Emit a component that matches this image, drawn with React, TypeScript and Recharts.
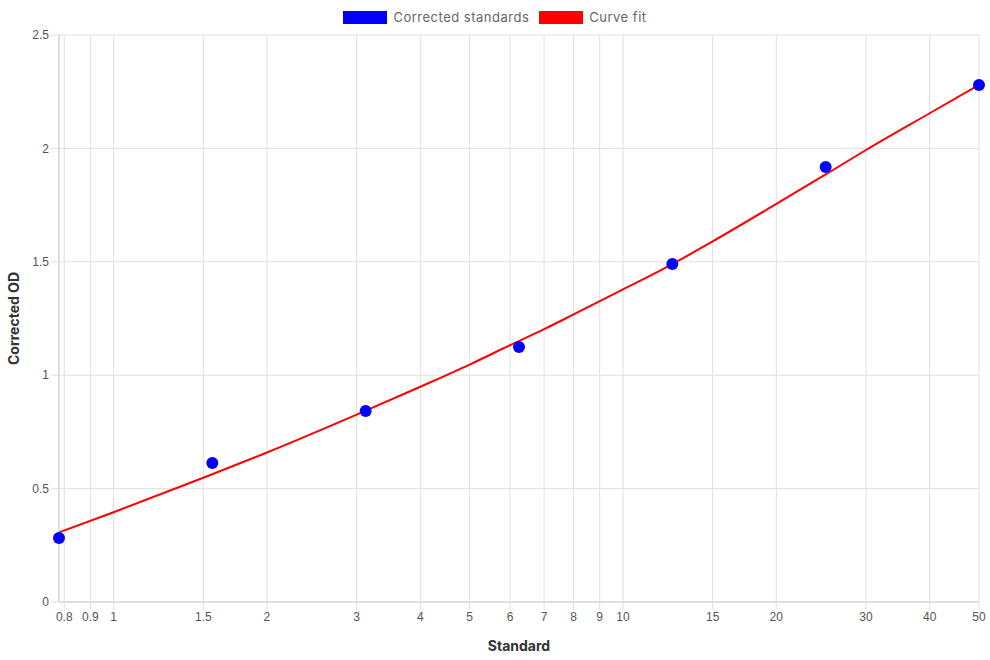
import {
  CartesianGrid,
  ComposedChart,
  Line,
  Scatter,
  XAxis,
  YAxis,
} from "recharts";

document.body.style.margin = "0";

// standards from a 2-fold serial dilution
const standardConc = [0.78125, 1.5625, 3.125, 6.25, 12.5, 25, 50];
const correctedOD = [0.282, 0.613, 0.842, 1.124, 1.49, 1.918, 2.28];

// fitted curve, sampled along the x range
const fitConc = [0.78125, 1, 1.5, 2, 3, 4, 5, 6, 7, 8, 10, 12.5, 15, 20, 25, 30, 40, 50];
const fitOD = [0.307, 0.396, 0.548, 0.659, 0.826, 0.949, 1.047, 1.132, 1.203, 1.268, 1.378, 1.49, 1.59, 1.755, 1.885, 1.993, 2.155, 2.28];

const xTicks = [0.8, 0.9, 1, 1.5, 2, 3, 4, 5, 6, 7, 8, 9, 10, 15, 20, 30, 40, 50];
const yTicks = [0, 0.5, 1, 1.5, 2, 2.5];

const standards = standardConc.map((x, i) => ({ x, y: correctedOD[i] }));
const fit = fitConc.map((x, i) => ({ x, y: fitOD[i] }));

const titleFont = "Inter, 'Open Sans', sans-serif";
const tickStyle = { fontFamily: "'Liberation Sans', Arial, sans-serif", fontSize: 12, fill: "#555" };

const legendItems = [
  { label: "Corrected standards", color: "#0000ff" },
  { label: "Curve fit", color: "#ff0000" },
];

const TopLegend = () => (
  <div
    style={{
      position: "absolute",
      top: 10,
      left: 0,
      width: 990,
      display: "flex",
      justifyContent: "center",
      gap: 10,
      fontFamily: titleFont,
      fontSize: 13,
      letterSpacing: 0.5,
      color: "#666",
      lineHeight: "15px",
    }}
  >
    {legendItems.map((item) => (
      <div key={item.label} style={{ display: "flex", alignItems: "center", gap: 6 }}>
        <span style={{ width: 44, height: 13, background: item.color, display: "inline-block" }} />
        <span>{item.label}</span>
      </div>
    ))}
  </div>
);

export default function App() {
  return (
    <div style={{ position: "relative", width: 990, height: 660, background: "#fff" }}>
      <ComposedChart width={990} height={660} margin={{ top: 35, right: 11, bottom: 0, left: 0 }}>
        <CartesianGrid stroke="#e0e0e0" />
        <XAxis
          type="number"
          dataKey="x"
          scale="log"
          domain={[0.78125, 50]}
          ticks={xTicks}
          interval={0}
          height={58}
          tick={tickStyle}
          tickSize={8}
          tickLine={{ stroke: "#e0e0e0" }}
          axisLine={{ stroke: "#cfcfcf" }}
          label={{
            value: "Standard",
            position: "insideBottom",
            offset: 9,
            style: { fontFamily: titleFont, fontWeight: 700, fontSize: 14, fill: "#333" },
          }}
        />
        <YAxis
          type="number"
          dataKey="y"
          domain={[0, 2.5]}
          ticks={yTicks}
          width={59}
          tick={tickStyle}
          tickSize={8}
          tickLine={{ stroke: "#e0e0e0" }}
          axisLine={{ stroke: "#cfcfcf" }}
          label={{
            value: "Corrected OD",
            angle: -90,
            position: "center",
            dx: -15,
            style: { fontFamily: titleFont, fontWeight: 700, fontSize: 14, fill: "#333" },
          }}
        />
        <Line
          data={fit}
          dataKey="y"
          type="monotone"
          stroke="#ff0000"
          strokeWidth={2}
          dot={false}
          activeDot={false}
          isAnimationActive={false}
        />
        <Scatter
          data={standards}
          dataKey="y"
          fill="#0000ff"
          shape={(p: any) => <circle cx={p.cx} cy={p.cy} r={6} fill="#0000ff" />}
          isAnimationActive={false}
        />
      </ComposedChart>
      <TopLegend />
    </div>
  );
}
